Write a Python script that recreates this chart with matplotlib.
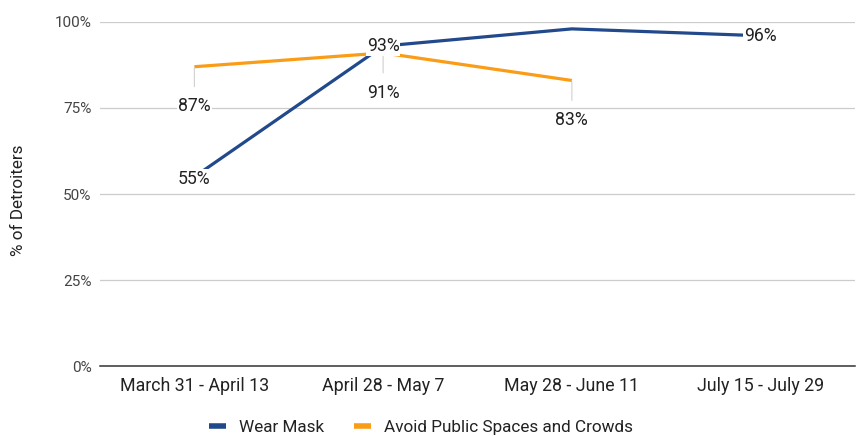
import matplotlib
matplotlib.use("Agg")
import matplotlib.pyplot as plt
from matplotlib.ticker import FuncFormatter

plt.rcParams['font.family'] = ['Roboto', 'DejaVu Sans']

periods = ["March 31 - April 13", "April 28 - May 7", "May 28 - June 11", "July 15 - July 29"]
wear_mask = [55, 93, 98, 96]
avoid_crowds = [87, 91, 83]
wear_mask_labeled = [True, True, False, True]
y_ticks = [0, 25, 50, 75, 100]

BLUE = "#21498b"
ORANGE = "#fb9c17"
TEXT = "#222222"

fig = plt.figure(figsize=(8.62, 4.36), dpi=100)
ax = fig.add_axes([100 / 862, 70 / 436, 755 / 862, 344 / 436])

x_wear = list(range(len(wear_mask)))
x_avoid = list(range(len(avoid_crowds)))

ax.plot(x_wear, wear_mask, color=BLUE, lw=2.3, solid_capstyle='butt', zorder=3, label="Wear Mask")
ax.plot(x_avoid, avoid_crowds, color=ORANGE, lw=2.3, solid_capstyle='butt', zorder=3,
        label="Avoid Public Spaces and Crowds")

box = dict(boxstyle="square,pad=0.05", fc="white", ec="none")

# Wear Mask labels sit on the points (first one just below)
for xi, v, show in zip(x_wear, wear_mask, wear_mask_labeled):
    if not show:
        continue
    dy = -1.5 if xi == 0 else 0
    ax.annotate(f"{v}%", (xi, v), xytext=(0, dy), textcoords="offset points",
                ha="center", va="center", fontsize=12.7, color=TEXT, bbox=box, zorder=5)

# Avoid labels hang below the points on thin leader lines
for xi, v in zip(x_avoid, avoid_crowds):
    ax.annotate(f"{v}%", (xi, v), xytext=(0, -28.5), textcoords="offset points",
                ha="center", va="center", fontsize=12.7, color=TEXT, bbox=box, zorder=4,
                arrowprops=dict(arrowstyle="-", color="#d0d0d0", lw=0.8,
                                shrinkA=7, shrinkB=1))

ax.set_xlim(-0.5, len(periods) - 0.5)
ax.set_ylim(0, 100)
ax.set_xticks(range(len(periods)))
ax.set_xticklabels(periods, fontsize=12.8, color=TEXT)
ax.set_yticks(y_ticks)
ax.yaxis.set_major_formatter(FuncFormatter(lambda v, p: f"{int(v)}%"))
ax.tick_params(axis='y', length=0, pad=6, labelsize=11, labelcolor="#444444")
ax.tick_params(axis='x', length=0, pad=8)
ax.grid(axis='y', color="#cccccc", lw=0.9)
ax.set_axisbelow(True)
for s in ["top", "right", "left"]:
    ax.spines[s].set_visible(False)
ax.spines["bottom"].set_color("#333333")
ax.spines["bottom"].set_linewidth(1.1)
ax.spines["bottom"].set_zorder(2)

fig.text(19 / 862, 1 - 200 / 436, "% of Detroiters", rotation=90, ha="center", va="center",
         fontsize=12.3, color=TEXT)

fig.legend(loc="center", bbox_to_anchor=(421 / 862, 8.5 / 436), ncol=2, frameon=False,
           fontsize=12.3, handlelength=1.0, handletextpad=0.8, columnspacing=1.7,
           labelcolor=TEXT)
for line in fig.legends[0].get_lines():
    line.set_linewidth(4)

fig.savefig("out.png", dpi=100)
